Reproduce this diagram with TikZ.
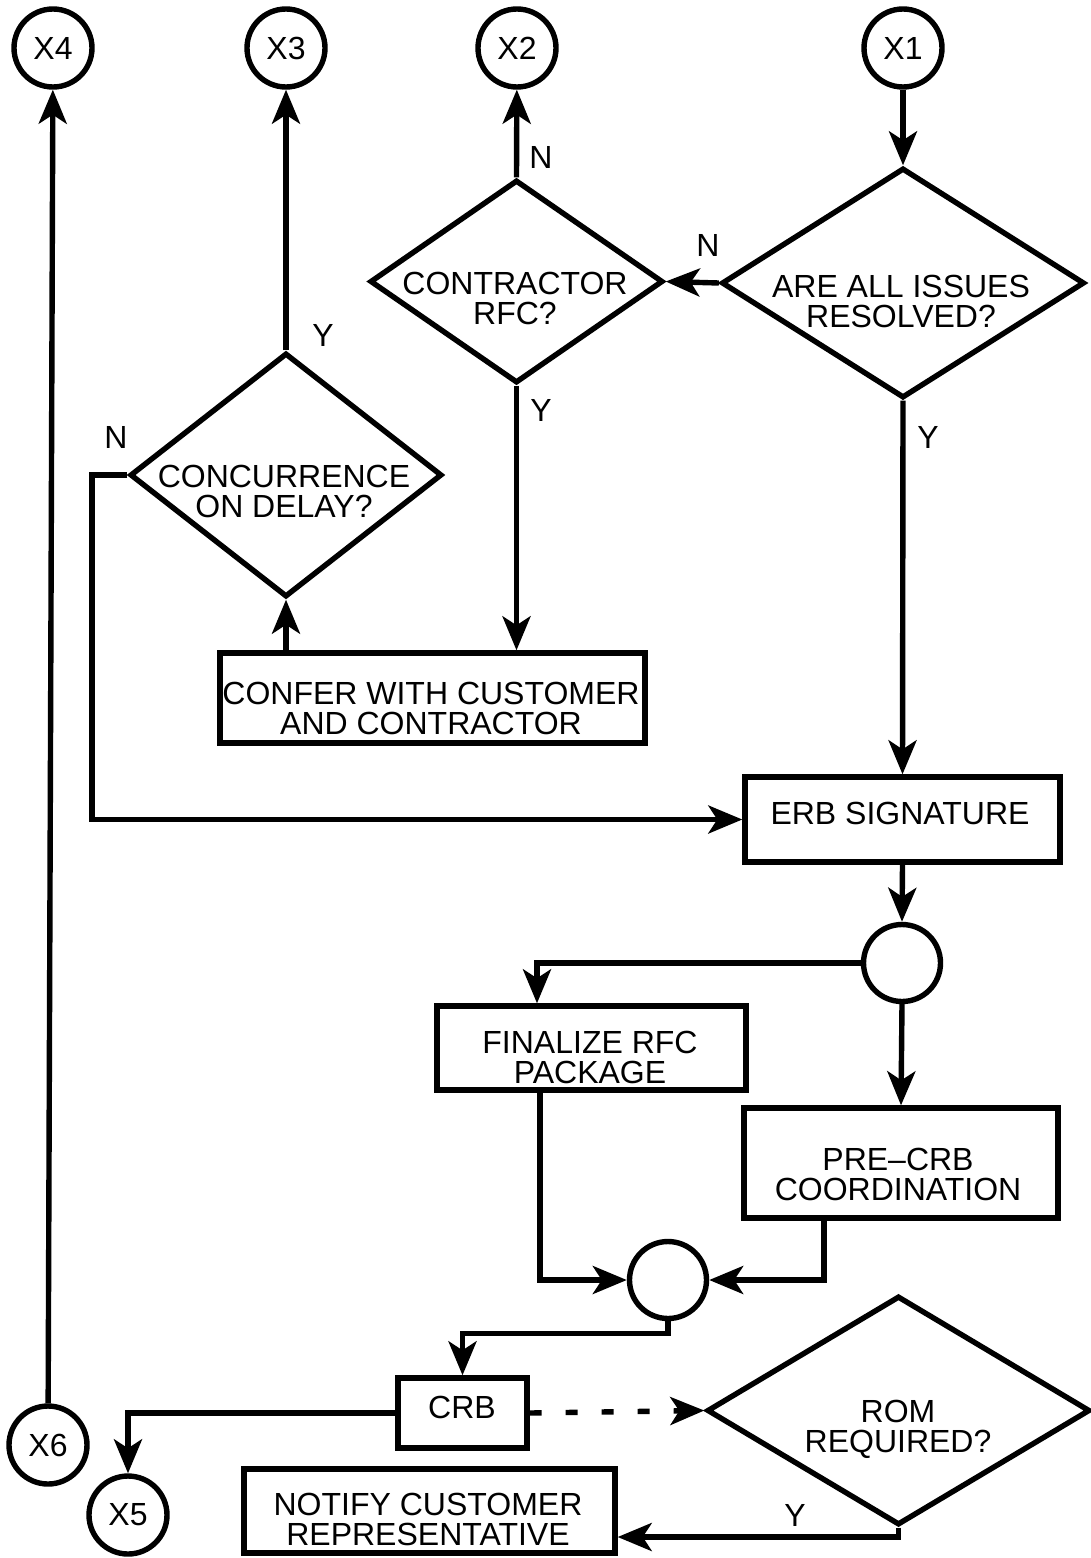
\documentclass[tikz,border=0pt]{standalone}
\usepackage{fontspec}
\setmainfont{Liberation Sans}
\usetikzlibrary{shapes.geometric,arrows.meta,calc}
\begin{document}
\begin{tikzpicture}[x=0.5pt,y=-0.5pt,
  every node/.style={font=\fontsize{16}{15}\selectfont, align=center, inner sep=0pt},
  lw/.style={line width=2.7pt},
  box/.style={lw, draw, rectangle},
  dia/.style={lw, draw, diamond},
  conn/.style={lw, draw, circle, minimum size=39pt},
  junc/.style={lw, draw, circle, minimum size=38.5pt},
  tip/.style={-{Stealth[length=17pt,width=14pt,inset=4.5pt]}},
  arr/.style={lw, tip},
  dotarr/.style={lw, dash pattern=on 6pt off 12pt, tip},
  lab/.style={font=\fontsize{16}{16}\selectfont}]
\useasboundingbox (0,0) rectangle (1091,1558);

% off-page connectors
\node[conn] (x4) at (53,48) {X4};
\node[conn] (x3) at (286,48) {X3};
\node[conn] (x2) at (517,48) {X2};
\node[conn] (x1) at (903,48) {X1};
\node[conn] (x6) at (48,1445) {X6};
\node[conn] (x5) at (128,1515) {X5};

% decisions
\node[dia, minimum width=181.5pt, minimum height=115pt] (dres) at (903,283) {};
\node at (901,301) {ARE ALL ISSUES\\RESOLVED?};
\node[dia, minimum width=146.5pt, minimum height=101.5pt] (drfc) at (516.5,281.5) {};
\node at (515,298) {CONTRACTOR\\RFC?};
\node[dia, minimum width=156pt, minimum height=122pt] (dcon) at (286,475) {};
\node at (284,491) {CONCURRENCE\\ON DELAY?};
\node[dia, minimum width=191.5pt, minimum height=114.5pt] (drom) at (898.5,1410.5) {};
\node at (898,1429) {ROM\\REQUIRED?};

% process boxes
\node[box, minimum width=212.5pt, minimum height=45pt] (confer) at (432.5,698) {};
\node at (431,708) {CONFER WITH CUSTOMER\\AND CONTRACTOR};
\node[box, minimum width=157.5pt, minimum height=42.5pt] (erb) at (902.5,819.5) {};
\node at (900,813) {ERB SIGNATURE};
\node[box, minimum width=154.5pt, minimum height=42pt] (fin) at (591.5,1048) {};
\node at (590,1057) {FINALIZE RFC\\PACKAGE};
\node[box, minimum width=157pt, minimum height=55pt] (pre) at (901,1163) {};
\node at (898,1174) {PRE--CRB\\COORDINATION};
\node[box, minimum width=64.5pt, minimum height=35pt] (crb) at (462.5,1413) {};
\node at (462,1407) {CRB};
\node[box, minimum width=185.5pt, minimum height=42pt] (notify) at (429.5,1511) {};
\node at (428,1519) {NOTIFY CUSTOMER\\REPRESENTATIVE};

% junctions
\node[junc] (j1) at (902,963) {};
\node[junc] (j2) at (668,1280) {};

\coordinate (nbend) at (92,475);

% connectors
\draw[arr] (x1) -- (dres.north);
\draw[arr] (dres.west) -- (drfc.east);
\draw[arr] (drfc.north) -- (x2);
\draw[arr] (drfc.south) -- (drfc.south |- confer.north);
\draw[arr] (confer.north -| dcon.south) -- (dcon.south);
\draw[arr] (dcon.north) -- (x3);
\draw[arr] (dcon.west) -- (nbend) |- (erb.west);
\draw[arr] (dres.south) -- (erb.north);
\draw[arr] (erb.south) -- (j1.north);
\draw[arr] (j1.west) -| ([xshift=-27.25pt]fin.north);
\draw[arr] (j1.south) -- (pre.north);
\draw[arr] ([xshift=-25.75pt]fin.south) |- (j2.west);
\draw[arr] ([xshift=-38.5pt]pre.south) |- (j2.east);
\draw[arr] (j2.south) -- ++(0,12) -| (crb.north);
\draw[arr] (crb.west) -| (x5.north);
\draw[dotarr] (crb.east) -- (drom.west);
\draw[arr] (drom.south) |- ([yshift=-13pt]notify.east);
\draw[arr] (x6) -- (x4);

% branch labels
\node[lab] at (708,245) {N};
\node[lab] at (541,157) {N};
\node[lab] at (541,410) {Y};
\node[lab] at (323,335) {Y};
\node[lab] at (116,437) {N};
\node[lab] at (928,437) {Y};
\node[lab] at (795,1515) {Y};
\end{tikzpicture}
\end{document}
